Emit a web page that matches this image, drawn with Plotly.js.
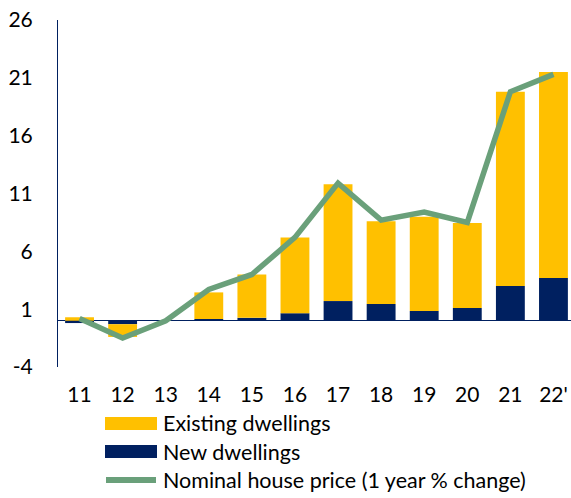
<!DOCTYPE html>
<html>
<head>
<meta charset="utf-8">
<script src="https://cdn.plot.ly/plotly-3.0.1.min.js"></script>
<style>
html,body{margin:0;padding:0;overflow:hidden;background:#fff;width:571px;height:498px;}
#chart{width:575px;height:498px;}
</style>
</head>
<body>
<div id="chart"></div>
<script>
var years = ["11","12","13","14","15","16","17","18","19","20","21","22'"];
var newDwellings = [-0.2,-0.3,0,0.15,0.25,0.65,1.7,1.45,0.85,1.1,3.0,3.7];
var existingDwellings = [0.3,-1.1,0,2.3,3.75,6.55,10.1,7.15,8.15,7.35,16.8,17.8];
var housePrice = [0.2,-1.5,0.0,2.7,4.0,7.2,11.9,8.7,9.4,8.5,19.8,21.3];
var yTicks = [-4,1,6,11,16,21,26];
var legendNames = ["Existing dwellings","New dwellings","Nominal house price (1 year % change)"];

var GOLD = "#FFC000", NAVY = "#002060", GREEN = "#6AA07A";
var FONT = "Lato, 'Open Sans', sans-serif";

var traces = [
  {type:"bar", x:years, y:newDwellings, name:legendNames[1], marker:{color:NAVY}, showlegend:false, hoverinfo:"skip"},
  {type:"bar", x:years, y:existingDwellings, name:legendNames[0], marker:{color:GOLD}, showlegend:false, hoverinfo:"skip"},
  {type:"scatter", mode:"lines", x:years, y:housePrice, name:legendNames[2], line:{color:GREEN, width:5.5}, showlegend:false, hoverinfo:"skip"}
];

// plot area in pixels: x 58..575, y 20..367
function px(x){return (x-58)/517;}
function py(y){return (367-y)/347;}

var shapes = [
  {type:"rect", xref:"paper", yref:"paper", x0:px(105), x1:px(157), y0:py(430), y1:py(417), fillcolor:GOLD, line:{width:0}},
  {type:"rect", xref:"paper", yref:"paper", x0:px(105), x1:px(157), y0:py(458), y1:py(445), fillcolor:NAVY, line:{width:0}},
  {type:"line", xref:"paper", yref:"paper", x0:px(106), x1:px(156), y0:py(480), y1:py(480), line:{color:GREEN, width:6}}
];
var rowsY = [423,452,480];
var annotations = legendNames.map(function(t,i){
  return {xref:"paper", yref:"paper", x:px(161), y:py(rowsY[i]), xanchor:"left", yanchor:"middle",
          text:t, showarrow:false, font:{family:FONT, size:21.5, color:"#000"}};
});

var layout = {
  width:575, height:498,
  margin:{l:58, r:0, t:20, b:131},
  paper_bgcolor:"#fff", plot_bgcolor:"#fff",
  barmode:"relative", bargap:0.33,
  font:{family:FONT, size:21, color:"#000"},
  xaxis:{type:"category", showline:false, showgrid:false, zeroline:false, ticks:"", ticklabelstandoff:13,
         tickfont:{family:FONT, size:21, color:"#000"}, fixedrange:true},
  yaxis:{range:[-4,26], tickvals:yTicks, ticktext:yTicks.map(String), showgrid:false,
         showline:true, linecolor:NAVY, linewidth:1, zeroline:true, zerolinecolor:NAVY, zerolinewidth:1,
         ticks:"", ticklabelstandoff:20, tickfont:{family:FONT, size:21, color:"#000"}, fixedrange:true},
  shapes:shapes,
  annotations:annotations,
  showlegend:false
};

Plotly.newPlot("chart", traces, layout, {displayModeBar:false, staticPlot:true});
</script>
</body>
</html>
